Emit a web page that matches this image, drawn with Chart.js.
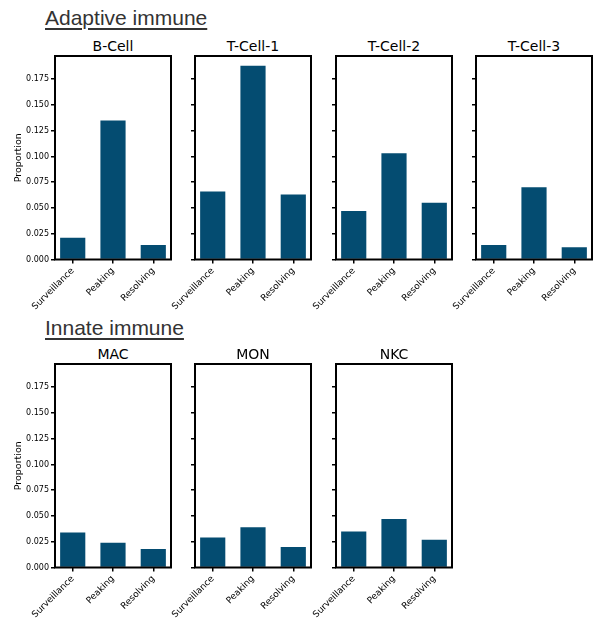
<!DOCTYPE html>
<html>
<head>
<meta charset="utf-8">
<script src="https://cdn.jsdelivr.net/npm/chart.js@4"></script>
<style>
  body { margin: 0; background: #fff; width: 603px; height: 621px; position: relative; overflow: hidden; }
  .group {
    position: absolute; left: 45px; margin: 0;
    font-family: "Liberation Sans", Arial, sans-serif; font-size: 21px; line-height: 1;
    color: #333; text-decoration: underline; text-decoration-thickness: 1.5px; text-underline-offset: 3px;
  }
  .ptitle {
    position: absolute; width: 116px; text-align: center;
    font-family: "DejaVu Sans", sans-serif; font-size: 14px; line-height: 1; color: #000;
  }
  canvas { position: absolute; }
</style>
</head>
<body>
<div class="group" style="top:7px">Adaptive immune</div>
<div class="group" style="top:317px">Innate immune</div>
<script>
// stages on the x axis
const stages = ['Surveillance', 'Peaking', 'Resolving'];
const yTicks = [0, 0.025, 0.05, 0.075, 0.1, 0.125, 0.15, 0.175];
const yMax = 0.1975;

// proportions per cell type
const bCell  = [0.021, 0.135, 0.014];
const tCell1 = [0.066, 0.188, 0.063];
const tCell2 = [0.047, 0.103, 0.055];
const tCell3 = [0.014, 0.070, 0.012];
const mac    = [0.034, 0.024, 0.018];
const mon    = [0.029, 0.039, 0.020];
const nkc    = [0.035, 0.047, 0.027];

const barColor = '#044c71';

Chart.defaults.font.family = 'DejaVu Sans';
Chart.defaults.color = '#000';

// full black frame round each plot
const boxPlugin = {
  id: 'box',
  afterDraw(chart) {
    const { ctx, chartArea: a } = chart;
    ctx.save();
    ctx.strokeStyle = '#000';
    ctx.lineWidth = 2;
    ctx.strokeRect(a.left, a.top, a.right - a.left, a.bottom - a.top);
    ctx.restore();
  }
};

const boxLefts = [55, 195, 336, 476];
const axisW = 55, canvasW = 175, canvasH = 280, padTop = 10, areaH = 203.5;

function panel(title, values, col, boxTop) {
  const t = document.createElement('div');
  t.className = 'ptitle';
  t.textContent = title;
  t.style.left = boxLefts[col] + 'px';
  t.style.top = Math.round(boxTop - 17) + 'px';
  document.body.appendChild(t);

  const c = document.createElement('canvas');
  c.width = canvasW; c.height = canvasH;
  c.style.left = (boxLefts[col] - axisW) + 'px';
  c.style.top = (boxTop - padTop) + 'px';
  document.body.appendChild(c);
  const first = col === 0;

  new Chart(c.getContext('2d'), {
    type: 'bar',
    data: {
      datasets: [{
        data: values.map((v, i) => ({ x: i, y: v })),
        backgroundColor: barColor,
        barPercentage: 1,
        categoryPercentage: 0.625
      }]
    },
    options: {
      responsive: false,
      devicePixelRatio: 1,
      animation: false,
      layout: { padding: { left: 0, right: 4, top: padTop, bottom: 0 } },
      plugins: {
        legend: { display: false },
        tooltip: { enabled: false },
        title: { display: false }
      },
      scales: {
        x: {
          type: 'linear', min: -0.44, max: 2.44, offset: false,
          afterBuildTicks: s => { s.ticks = stages.map((_, i) => ({ value: i })); },
          afterFit: s => { s.height = canvasH - padTop - areaH; s.paddingLeft = 0; s.paddingRight = 0; },
          grid: { offset: false, drawOnChartArea: false, drawTicks: true, tickLength: 4, color: '#000', lineWidth: 1.5 },
          border: { display: false },
          ticks: {
            autoSkip: false, minRotation: 45, maxRotation: 45, padding: 2,
            font: { size: 9 },
            callback: v => stages[v]
          }
        },
        y: {
          min: 0, max: yMax,
          afterBuildTicks: s => { s.ticks = yTicks.map(v => ({ value: v })); },
          afterFit: s => { s.width = axisW; s.paddingTop = 0; s.paddingBottom = 0; },
          grid: { drawOnChartArea: false, drawTicks: true, tickLength: 4, color: '#000', lineWidth: 1.5 },
          border: { display: false },
          ticks: {
            display: first, padding: 2, font: { size: 8 },
            callback: v => v.toFixed(3)
          },
          title: {
            display: first, text: 'Proportion',
            font: { size: 9.5 }, padding: { top: 13, bottom: 0 }
          }
        }
      }
    },
    plugins: [boxPlugin]
  });
}

panel('B-Cell', bCell, 0, 56);
panel('T-Cell-1', tCell1, 1, 56);
panel('T-Cell-2', tCell2, 2, 56);
panel('T-Cell-3', tCell3, 3, 56);
panel('MAC', mac, 0, 364);
panel('MON', mon, 1, 364);
panel('NKC', nkc, 2, 364);
</script>
</body>
</html>
